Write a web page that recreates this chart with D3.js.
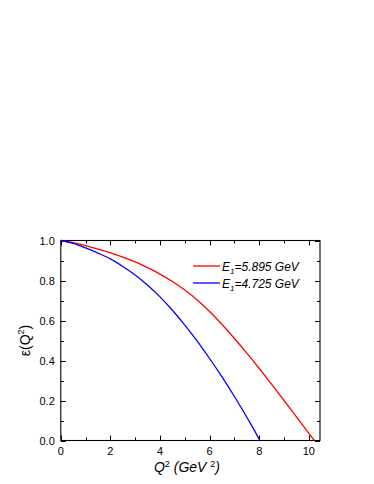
<!DOCTYPE html>
<html>
<head>
<meta charset="utf-8">
<script src="https://cdn.jsdelivr.net/npm/d3@7"></script>
<style>
  body { margin: 0; background: #fff; }
  svg { display: block; }
  text { font-family: "Liberation Sans", Arial, sans-serif; fill: #000; }
</style>
</head>
<body>
<div id="chart"></div>
<script>
// Q^2 values (GeV^2) and epsilon
var q2Red = [0, 0.5, 1, 1.5, 2, 2.5, 3, 3.5, 4, 4.5, 5, 5.5, 6, 6.5, 7, 7.5, 8, 8.5, 9, 9.5, 10, 10.22];
var epsRed = [1.0, 0.989, 0.974, 0.957, 0.938, 0.917, 0.893, 0.864, 0.832, 0.795, 0.752, 0.703, 0.645, 0.580, 0.510, 0.437, 0.360, 0.281, 0.200, 0.118, 0.036, 0.0];

var q2Blue = [0, 0.5, 1, 1.5, 2, 2.5, 3, 3.5, 4, 4.5, 5, 5.5, 6, 6.5, 7, 7.5, 8, 8.02];
var epsBlue = [1.0, 0.986, 0.963, 0.937, 0.908, 0.870, 0.827, 0.776, 0.718, 0.651, 0.577, 0.497, 0.410, 0.318, 0.220, 0.116, 0.005, 0.0];

var legendLabels = ["5.895 GeV", "4.725 GeV"];
var xTicks = [0, 2, 4, 6, 8, 10];
var yTicks = [0.0, 0.2, 0.4, 0.6, 0.8, 1.0];

var width = 374, height = 484;
var margin = {left: 60.8, right: 54, top: 240.5, bottom: 43.5};

var svg = d3.select("#chart").append("svg")
  .attr("width", width)
  .attr("height", height);

var x = d3.scaleLinear().domain([0, 10.45]).range([margin.left, width - margin.right]);
var y = d3.scaleLinear().domain([0, 1]).range([height - margin.bottom, margin.top]);

var x0 = x.range()[0], x1 = x.range()[1], y0 = y.range()[0], y1 = y.range()[1];

// ticks, inward, on all four sides
var g = svg.append("g").attr("stroke", "#000").attr("stroke-width", 1);
d3.range(0, 10.01, 1).forEach(function(v){
  var len = (v % 2 === 0) ? 5 : 3;
  var px = Math.round(x(v)) + 0.5;
  g.append("line").attr("x1", px).attr("x2", px).attr("y1", y0).attr("y2", y0 - len);
  g.append("line").attr("x1", px).attr("x2", px).attr("y1", y1).attr("y2", y1 + len);
});
d3.range(0, 1.001, 0.1).forEach(function(v, i){
  var len = (i % 2 === 0) ? 5 : 3;
  var py = Math.round(y(v)) + 0.5;
  g.append("line").attr("y1", py).attr("y2", py).attr("x1", x0).attr("x2", x0 + len);
  g.append("line").attr("y1", py).attr("y2", py).attr("x1", x1).attr("x2", x1 - len);
});

svg.append("rect")
  .attr("x", x0).attr("y", y1)
  .attr("width", x1 - x0).attr("height", y0 - y1)
  .attr("fill", "none").attr("stroke", "#000").attr("stroke-width", 1.1);

// tick labels
svg.selectAll(".xlab").data(xTicks).enter().append("text")
  .attr("class", "xlab")
  .attr("x", function(d){ return x(d); })
  .attr("y", y0 + 14.5)
  .attr("text-anchor", "middle")
  .attr("font-size", 11)
  .text(function(d){ return d; });

svg.selectAll(".ylab").data(yTicks).enter().append("text")
  .attr("class", "ylab")
  .attr("x", x0 - 6)
  .attr("y", function(d){ return y(d) + 4; })
  .attr("text-anchor", "end")
  .attr("font-size", 11)
  .text(function(d){ return d.toFixed(1); });

// curves
var line = d3.line().curve(d3.curveMonotoneX)
  .x(function(d){ return x(d[0]); })
  .y(function(d){ return y(d[1]); });

svg.append("path")
  .datum(d3.zip(q2Red, epsRed))
  .attr("d", line)
  .attr("fill", "none").attr("stroke", "#ff0000").attr("stroke-width", 1.3);

svg.append("path")
  .datum(d3.zip(q2Blue, epsBlue))
  .attr("d", line)
  .attr("fill", "none").attr("stroke", "#0000ff").attr("stroke-width", 1.3);

// legend
var legColors = ["#ff0000", "#0000ff"];
legendLabels.forEach(function(lab, i){
  var ly = 266 + i * 17;
  svg.append("line")
    .attr("x1", 193).attr("x2", 220).attr("y1", ly).attr("y2", ly)
    .attr("stroke", legColors[i]).attr("stroke-width", 1.3);
  var t = svg.append("text")
    .attr("x", 222).attr("y", ly + 4.5)
    .attr("font-size", 12).attr("font-style", "italic");
  t.append("tspan").text("E");
  t.append("tspan").attr("font-size", 8).attr("dy", 3).text("1");
  t.append("tspan").attr("dy", -3).text("=" + lab);
});

// axis titles
var xt = svg.append("text")
  .attr("x", 187).attr("y", 472)
  .attr("text-anchor", "middle")
  .attr("font-size", 14).attr("font-style", "italic");
xt.append("tspan").text("Q");
xt.append("tspan").attr("font-size", 9).attr("dy", -5.5).attr("font-style", "normal").text("2");
xt.append("tspan").attr("dy", 5.5).text(" (GeV ");
xt.append("tspan").attr("font-size", 9).attr("dy", -5.5).attr("font-style", "normal").text("2");
xt.append("tspan").attr("dy", 5.5).text(")");

var yt = svg.append("text")
  .attr("transform", "translate(30," + y(0.5) + ") rotate(-90)")
  .attr("text-anchor", "middle")
  .attr("font-size", 14);
yt.append("tspan").text("\u03b5(Q");
yt.append("tspan").attr("font-size", 9).attr("dy", -6).text("2");
yt.append("tspan").attr("dy", 6).text(")");
</script>
</body>
</html>
